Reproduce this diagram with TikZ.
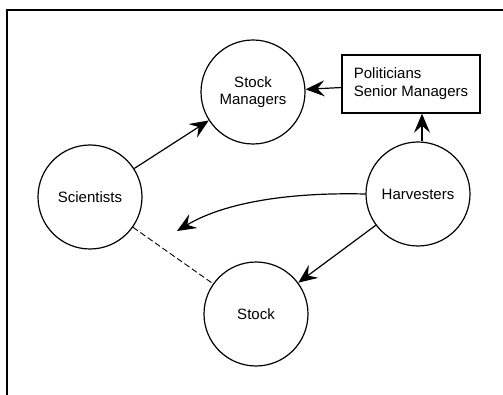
\documentclass[tikz,border=0pt]{standalone}
\usepackage{fontspec}
\setmainfont{Liberation Sans}
\usetikzlibrary{arrows.meta}
\begin{document}
\begin{tikzpicture}[x=1pt,y=-1pt,
  actor/.style={draw, circle, line width=1.2pt, minimum size=104pt, inner sep=0pt, font=\fontsize{15}{17}\selectfont, align=center},
  groupbox/.style={draw, rectangle, line width=1.4pt, minimum width=138pt, minimum height=58pt, inner sep=3pt, font=\fontsize{15}{18}\selectfont, align=left},
  flow/.style={line width=1.2pt, -{Stealth[length=19pt,width=16pt,inset=7pt]}},
  link/.style={line width=0.9pt, dash pattern=on 6pt off 3pt}]
\useasboundingbox (0,0) rectangle (503,395);
\fill[white] (0,0) rectangle (503,395);
\begin{scope}
\clip (0,0) rectangle (503,395);
\draw[line width=1.8pt] (7,400) -- (7,10) -- (510,10);
\end{scope}
\node[actor] (mgr) at (253,92) {Stock\\Managers};
\node[actor] (sci) at (90,197) {Scientists};
\node[actor] (har) at (418,194) {Harvesters};
\node[actor] (stock) at (256,314) {Stock};
\node[groupbox] (pol) at (411,84) {Politicians\\Senior Managers};
\coordinate (free) at (177,231);
\draw[flow] (sci) -- (mgr);
\draw[flow] (pol) -- (mgr);
\draw[flow] (har.north -| 422,0) -- (pol.south -| 422,0);
\draw[flow] (har.west) .. controls (280,192) and (220,205) .. (free);
\draw[flow] (har) -- (stock);
\draw[link] (sci) -- (stock);
\end{tikzpicture}
\end{document}
